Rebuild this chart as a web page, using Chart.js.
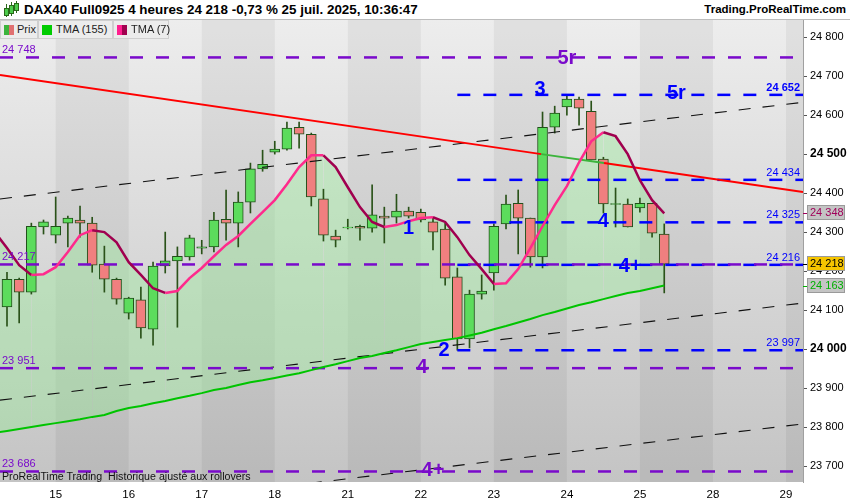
<!DOCTYPE html>
<html>
<head>
<meta charset="utf-8">
<script src="https://cdn.jsdelivr.net/npm/chart.js@4.4.1/dist/chart.umd.min.js"></script>
<style>
  body { margin: 0; background: #fff; }
  #wrap { position: relative; width: 850px; height: 500px; overflow: hidden; font-family: "Liberation Sans", Arial, sans-serif; }
  #chart { position: absolute; left: 0; top: 0; }
  #head { position: absolute; left: 0; top: 0; width: 850px; height: 20px; background: #fff; border-bottom: 1px solid #bdbdbd; box-sizing: border-box; font-weight: bold; color: #000; }
  #title { position: absolute; left: 24px; top: 2px; white-space: nowrap; font-size: 13.4px; }
  #site { position: absolute; right: 4px; top: 3px; font-size: 11.5px; }
  .ic { position: absolute; background: #4ccc4c; border: 1px solid #2a6a1a; }
  .icw { position: absolute; width: 1px; background: #2a6a1a; }
  .leg { position: absolute; top: 20px; height: 19px; background: #ececec; border: 1px solid #cfcfcf; box-sizing: border-box; font-size: 11px; color: #222; line-height: 17px; white-space: nowrap; }
  .sw { position: absolute; top: 4px; width: 5px; height: 10px; }
  #foot { position: absolute; left: 2px; top: 470px; font-size: 10.65px; color: #111; white-space: nowrap; }
</style>
</head>
<body>
<div id="wrap">
  <canvas id="chart" width="850" height="500"></canvas>
  <div id="head">
    <div class="icw" style="left:6px;top:4px;height:13px"></div><div class="ic" style="left:4px;top:8px;width:3px;height:6px"></div>
    <div class="icw" style="left:11px;top:2px;height:14px"></div><div class="ic" style="left:9px;top:5px;width:3px;height:7px"></div>
    <div class="icw" style="left:16px;top:1px;height:12px"></div><div class="ic" style="left:14px;top:3px;width:3px;height:6px"></div>
    <span id="title">DAX40 Full0925 4 heures 24 218 -0,73 % 25 juil. 2025, 10:36:47</span>
    <span id="site">Trading.ProRealTime.com</span>
  </div>
  <div class="leg" style="left:0;width:38px"><span class="sw" style="left:3px;background:#3cb43c"></span><span class="sw" style="left:8px;background:#e07070"></span><span style="position:absolute;left:16px">Prix</span></div>
  <div class="leg" style="left:38px;width:75px"><span class="sw" style="left:3px;width:10px;background:#00cc00"></span><span style="position:absolute;left:17px">TMA (155)</span></div>
  <div class="leg" style="left:113px;width:56px"><span class="sw" style="left:3px;background:#ff1f8f"></span><span class="sw" style="left:8px;background:#a0004f"></span><span style="position:absolute;left:17px">TMA (7)</span></div>
  <div id="foot">ProRealTime Trading&nbsp; Historique ajusté aux rollovers</div>
</div>
<script>
// 4-hour bars, x = bar index (6 bars a day), first visible bar = 0
const dayLabels = ['15', '16', '17', '18', '21', '22', '23', '24', '25', '28', '29'];
const dayStart = [4, 10, 16, 22, 28, 34, 40, 46, 52, 58, 64];
const priceTicks = [23700, 23800, 23900, 24000, 24100, 24200, 24300, 24400, 24500, 24600, 24700, 24800];

const opens  = [24108, 24179, 24146, 24313, 24292, 24323, 24331, 24323, 24218, 24179, 24092, 24126, 24051, 24213, 24226, 24236, 24259, 24262, 24333, 24323,
                24377, 24462, 24505, 24513, 24569, 24551, 24385, 24290, 24311, 24315, 24310, 24341, 24338, 24354, 24351, 24326, 24308, 24185, 24026, 24141,
                24195, 24321, 24374, 24336, 24236, 24569, 24621, 24641, 24610, 24487, 24371, 24372, 24362, 24374, 24295];
const highs  = [24197, 24182, 24323, 24331, 24390, 24341, 24367, 24338, 24264, 24182, 24133, 24159, 24223, 24300, 24262, 24292, 24279, 24351, 24408, 24403,
                24477, 24510, 24533, 24582, 24582, 24554, 24410, 24305, 24333, 24318, 24421, 24364, 24397, 24364, 24359, 24338, 24323, 24208, 24151, 24190,
                24321, 24395, 24408, 24336, 24608, 24623, 24649, 24646, 24636, 24492, 24413, 24385, 24387, 24374, 24321];
const lows   = [24059, 24067, 24141, 24295, 24272, 24262, 24287, 24197, 24146, 24115, 24077, 24028, 24010, 24195, 24056, 24228, 24244, 24249, 24279, 24262,
                24349, 24456, 24500, 24510, 24515, 24367, 24277, 24262, 24308, 24279, 24300, 24272, 24323, 24336, 24326, 24254, 24164, 23997, 24003, 24128,
                24151, 24308, 24244, 24210, 24208, 24554, 24600, 24574, 24485, 24349, 24313, 24313, 24351, 24287, 24144];
const closes = [24179, 24146, 24315, 24326, 24315, 24336, 24323, 24215, 24179, 24128, 24131, 24054, 24213, 24226, 24238, 24285, 24262, 24331, 24323, 24377,
                24462, 24474, 24513, 24567, 24551, 24390, 24292, 24279, 24313, 24310, 24344, 24336, 24354, 24341, 24331, 24300, 24182, 24026, 24141, 24149,
                24315, 24372, 24336, 24236, 24569, 24605, 24641, 24618, 24485, 24372, 24373, 24313, 24374, 24297, 24218];

// moving averages start one bar before the first visible candle
const tmaStart = -1;
const tma7 = [24300, 24259, 24215, 24190, 24192, 24210, 24249, 24292, 24305, 24300, 24274, 24223, 24190, 24156, 24144, 24149, 24182, 24208, 24238, 24267,
              24290, 24321, 24351, 24382, 24423, 24467, 24497, 24497, 24467, 24415, 24364, 24326, 24313, 24318, 24328, 24336, 24338, 24326, 24287, 24241,
              24205, 24167, 24169, 24205, 24259, 24315, 24369, 24418, 24479, 24533, 24556, 24546, 24500, 24433, 24382, 24348];
const tma155 = [23785, 23790, 23795, 23800, 23805, 23810, 23815, 23820, 23826, 23831, 23841, 23849, 23854, 23861, 23867, 23874, 23880, 23887, 23895, 23900,
                23908, 23915, 23920, 23926, 23932, 23938, 23946, 23954, 23961, 23969, 23977, 23982, 23990, 23997, 24005, 24013, 24018, 24023, 24028, 24035,
                24042, 24051, 24059, 24068, 24077, 24087, 24095, 24104, 24113, 24120, 24128, 24136, 24144, 24149, 24156, 24163];

const purpleLevels = [24748, 24217, 23951, 23686];
const blueLevels = [24652, 24434, 24325, 24216, 23997];
const blueFrom = 37;

// drawn lines: [bar index, price]
const redLine = [[-0.575, 24703], [43.9, 24500], [49.05, 24477], [65.4, 24403]];
const channelUp = [[-0.575, 24385], [65.4, 24633]];
const channelMid = [[-0.575, 23869], [65.4, 24118]];
const channelLow = [[-0.575, 23560], [65.4, 23808]];

// wave counts: [text, bar index, price, 'b' blue / 'p' purple]
const waves = [
  ['5r', 46.0, 24748, 'p'], ['3', 43.8, 24669, 'b'], ['5r', 55.0, 24659, 'b'],
  ['1', 33.0, 24313, 'b'], ['4', 49.0, 24331, 'b'], ['4+', 51.2, 24215, 'b'],
  ['2', 35.9, 24000, 'b'], ['4', 34.1, 23956, 'p'], ['4+', 35.0, 23690, 'p']
];
const lastValues = [24348, 24218, 24163];   // TMA7, price, TMA155

const X_MIN = -0.575, X_MAX = 65.4, Y_MIN = 23659, Y_MAX = 24844;
const FONT = '"Liberation Sans", Arial, sans-serif';
const BLUE = '#0000ff', PURPLE = '#7a0acb';

const fmt = v => { const s = String(Math.round(v)); return s.slice(0, -3) + ' ' + s.slice(-3); };
const pts = arr => arr.map(p => ({ x: p[0], y: p[1] }));
const level = v => [{ x: X_MIN, y: v }, { x: X_MAX, y: v }];

const hDatasets = [];
purpleLevels.forEach(v => hDatasets.push({ data: level(v), borderColor: PURPLE, borderWidth: 2.5, borderDash: [13, 13], pointRadius: 0, order: 3 }));
blueLevels.forEach(v => hDatasets.push({ data: [{ x: blueFrom, y: v }, { x: X_MAX, y: v }], borderColor: BLUE, borderWidth: 2.5, borderDash: [13, 13], pointRadius: 0, order: 3 }));
[channelUp, channelMid, channelLow].forEach(c => hDatasets.push({ data: pts(c), borderColor: '#111', borderWidth: 1.1, borderDash: [12, 12], pointRadius: 0, order: 3 }));

const bgPlugin = {
  id: 'bg',
  beforeDraw(chart) {
    const { ctx, chartArea: a, scales: { x } } = chart;
    ctx.save();
    const g = ctx.createLinearGradient(0, a.top, 0, a.bottom);
    g.addColorStop(0, '#ededed');
    g.addColorStop(1, '#c4c4c4');
    ctx.fillStyle = g;
    ctx.fillRect(a.left, a.top, a.right - a.left, a.bottom - a.top);
    ctx.fillStyle = 'rgba(0,0,0,0.05)';
    for (let k = 0; k < dayStart.length; k += 2) {
      const x0 = x.getPixelForValue(dayStart[k]);
      const x1 = k + 1 < dayStart.length ? x.getPixelForValue(dayStart[k + 1]) : a.right;
      ctx.fillRect(x0, a.top, x1 - x0, a.bottom - a.top);
    }
    ctx.restore();
  }
};

const textPlugin = {
  id: 'texts',
  afterDatasetsDraw(chart) {
    const { ctx, scales: { x, y } } = chart;
    ctx.save();
    ctx.textBaseline = 'alphabetic';
    ctx.font = '11px ' + FONT;
    ctx.fillStyle = PURPLE;
    ctx.textAlign = 'left';
    purpleLevels.forEach(v => ctx.fillText(fmt(v), 2, y.getPixelForValue(v) - 4));
    ctx.fillStyle = BLUE;
    ctx.textAlign = 'right';
    blueLevels.forEach((v, k) => {
      ctx.font = (k === 0 ? 'bold ' : '') + '11px ' + FONT;
      ctx.fillText(fmt(v), 800, y.getPixelForValue(v) - 4);
    });
    ctx.font = 'bold 20px ' + FONT;
    ctx.textAlign = 'center';
    ctx.textBaseline = 'middle';
    waves.forEach(([t, i, p, c]) => {
      ctx.fillStyle = c === 'b' ? BLUE : PURPLE;
      ctx.fillText(t, x.getPixelForValue(i), y.getPixelForValue(p) + 1);
    });
    ctx.restore();
  },
  afterDraw(chart) {
    const { ctx, scales: { y }, chartArea: a } = chart;
    const styles = [['#c4c4c4', '#a0005a'], ['#f6c500', '#000'], ['#c4c4c4', '#00b000']];
    ctx.save();
    ctx.font = '11px ' + FONT;
    ctx.textAlign = 'left';
    ctx.textBaseline = 'middle';
    lastValues.forEach((v, k) => {
      const py = Math.round(y.getPixelForValue(v));
      ctx.fillStyle = styles[k][1];
      ctx.fillRect(a.right, py, 4, 1);
      ctx.fillStyle = styles[k][0];
      ctx.fillRect(807, py - 8, 38, 15);
      ctx.strokeStyle = '#9a9a9a';
      ctx.strokeRect(807.5, py - 7.5, 37, 14);
      ctx.fillStyle = styles[k][1];
      ctx.fillText(fmt(v), 810, py);
    });
    ctx.restore();
  }
};

const ctx = document.getElementById('chart').getContext('2d');
new Chart(ctx, {
  type: 'line',
  data: {
    datasets: [
      {
        label: 'TMA (155)',
        data: tma155.map((v, k) => ({ x: k + tmaStart, y: v })),
        borderColor: '#00c400', borderWidth: 2, pointRadius: 0, order: 1
      },
      {
        label: 'TMA (7)',
        data: tma7.map((v, k) => ({ x: k + tmaStart, y: v })),
        borderWidth: 2.5, pointRadius: 0, order: 0,
        fill: { target: 0, above: 'rgba(150,235,150,0.4)', below: 'rgba(150,235,150,0.4)' },
        segment: { borderColor: c => c.p1.parsed.y >= c.p0.parsed.y ? '#ff2a8c' : '#a0004f' }
      },
      {
        data: pts(redLine), borderWidth: 2, pointRadius: 0, order: 2,
        segment: { borderColor: c => c.p0DataIndex === 1 ? '#3cb43c' : '#ff0000' }
      },
      ...hDatasets,
      {
        type: 'bar',
        data: lows.map((l, i) => ({ x: i, y: [l, highs[i]] })),
        backgroundColor: '#2a5219', barThickness: 1, grouped: false, order: 10
      },
      {
        type: 'bar',
        data: opens.map((o, i) => ({ x: i, y: [o, closes[i]] })),
        backgroundColor: opens.map((o, i) => closes[i] >= o ? '#5cdc5c' : '#f07f7f'),
        borderColor: '#21501a', borderWidth: 1, borderSkipped: false,
        barThickness: 10, grouped: false, order: 9
      }
    ]
  },
  options: {
    responsive: false,
    animation: false,
    layout: { padding: { top: 20, left: 0, right: 0, bottom: 0 } },
    plugins: {
      legend: { display: false },
      tooltip: { enabled: false },
      filler: { drawTime: 'beforeDatasetsDraw' }
    },
    scales: {
      x: {
        type: 'linear', min: X_MIN, max: X_MAX, offset: false,
        afterBuildTicks: s => { s.ticks = dayStart.map(v => ({ value: v })); },
        afterFit: s => { s.height = 18; },
        grid: { display: false },
        border: { display: false },
        ticks: {
          autoSkip: false, maxRotation: 0, padding: -2, color: '#000',
          font: { family: FONT, size: 11.5 },
          callback: v => dayLabels[dayStart.indexOf(v)]
        }
      },
      y: {
        position: 'right', min: Y_MIN, max: Y_MAX,
        afterBuildTicks: s => { s.ticks = priceTicks.map(v => ({ value: v })); },
        afterFit: s => { s.width = 47; },
        grid: { drawOnChartArea: false, tickLength: 4, color: '#555' },
        border: { color: '#a0a0a0' },
        ticks: {
          padding: 3, color: '#000',
          font: c => (c.tick && c.tick.value % 500 === 0)
            ? { family: FONT, size: 12, weight: 'bold' }
            : { family: FONT, size: 11 },
          callback: v => fmt(v)
        }
      }
    }
  },
  plugins: [bgPlugin, textPlugin]
});
</script>
</body>
</html>
